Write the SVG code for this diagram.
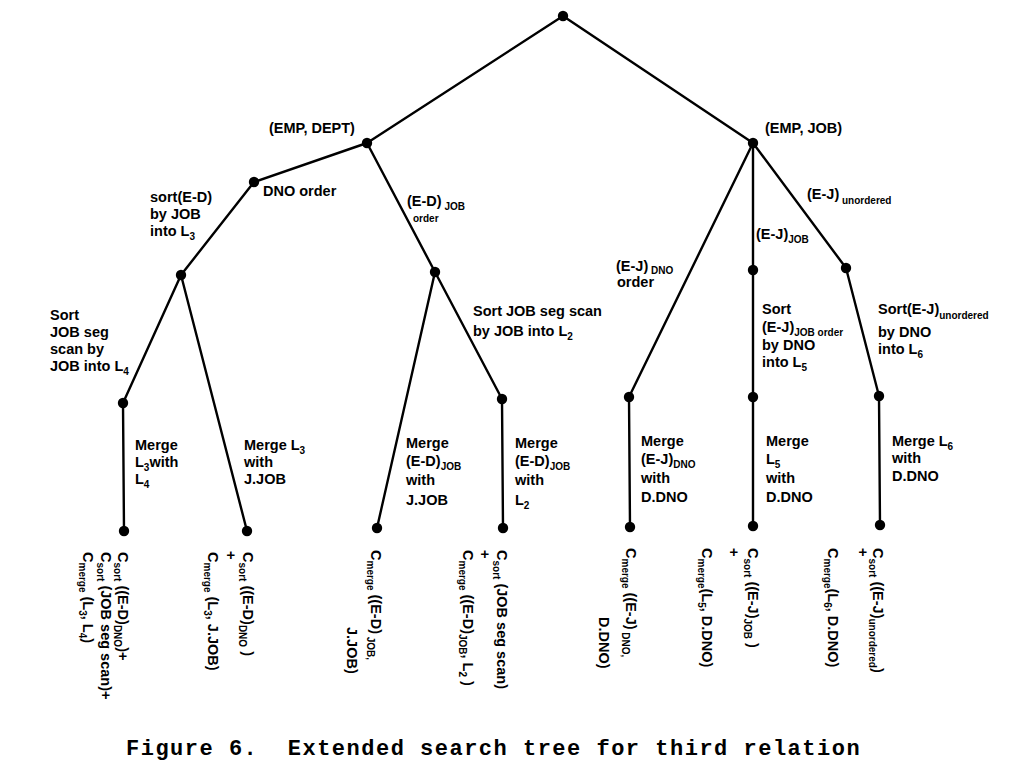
<svg xmlns="http://www.w3.org/2000/svg" width="1017" height="773" viewBox="0 0 1017 773">
<style>
.t{font-family:"Liberation Sans",Arial,sans-serif;font-weight:bold;font-size:14.5px;fill:#000}
.s{font-size:10px}
.cap{font-family:"Liberation Mono","Courier New",monospace;font-weight:bold;font-size:22px;letter-spacing:1.5px;fill:#000}
.e{stroke:#000;stroke-width:2.4;fill:none;stroke-linecap:round;stroke-linejoin:round}
.n{fill:#000}
</style>
<rect width="1017" height="773" fill="#fff"/>
<g id="connectors" class="e">
<line x1="563" y1="16" x2="367" y2="143"/>
<line x1="563" y1="16" x2="753" y2="143"/>
<line x1="367" y1="143" x2="254" y2="182"/>
<line x1="367" y1="143" x2="435" y2="272"/>
<line x1="254" y1="182" x2="181" y2="275"/>
<line x1="181" y1="275" x2="123" y2="403"/>
<line x1="123" y1="403" x2="124" y2="531"/>
<line x1="181" y1="275" x2="247" y2="531"/>
<line x1="435" y1="272" x2="377" y2="528"/>
<line x1="435" y1="272" x2="502" y2="399"/>
<line x1="502" y1="399" x2="503" y2="528"/>
<line x1="753" y1="143" x2="629" y2="397"/>
<line x1="629" y1="397" x2="630" y2="527"/>
<line x1="753" y1="143" x2="753" y2="526"/>
<line x1="753" y1="143" x2="846" y2="268"/>
<line x1="846" y1="268" x2="879" y2="396"/>
<line x1="879" y1="396" x2="880" y2="525"/>
</g>
<g id="root"><circle class="n" cx="563" cy="16" r="5.2"/></g>
<g id="emp-dept"><circle class="n" cx="367" cy="143" r="5.2"/><text class="t" x="269" y="133">(EMP, DEPT)</text></g>
<g id="emp-job"><circle class="n" cx="753" cy="143" r="5.2"/><text class="t" x="765" y="133">(EMP, JOB)</text></g>
<g id="dno-order"><circle class="n" cx="254" cy="182" r="5.2"/><text class="t" x="263" y="196">DNO order</text></g>
<g id="sort-ed"><circle class="n" cx="181" cy="275" r="5.2"/>
<text class="t" x="150" y="202">sort(E-D)</text><text class="t" x="150" y="219">by JOB</text><text class="t" x="150" y="236">into L<tspan class="s" dy="4">3</tspan></text></g>
<g id="ed-job"><circle class="n" cx="435" cy="272" r="5.2"/>
<text class="t" x="407" y="206">(E-D)<tspan class="s" dy="4"> JOB</tspan></text><text class="t s" x="413" y="222">order</text></g>
<g id="sort-jobseg-l4"><circle class="n" cx="123" cy="403" r="5.2"/>
<text class="t" x="50" y="320">Sort</text><text class="t" x="50" y="337">JOB seg</text><text class="t" x="50" y="354">scan by</text><text class="t" x="50" y="371">JOB into L<tspan class="s" dy="4">4</tspan></text></g>
<g id="sort-jobseg-l2"><circle class="n" cx="502" cy="399" r="5.2"/>
<text class="t" x="473" y="316">Sort JOB seg scan</text><text class="t" x="473" y="336">by JOB into L<tspan class="s" dy="4">2</tspan></text></g>
<g id="ej-dno"><circle class="n" cx="629" cy="397" r="5.2"/>
<text class="t" x="616" y="271">(E-J)<tspan class="s" dy="3"> DNO</tspan></text><text class="t" x="617" y="287">order</text></g>
<g id="ej-job"><circle class="n" cx="753" cy="270" r="5.2"/><text class="t" x="756" y="239">(E-J)<tspan class="s" dy="4">JOB</tspan></text></g>
<g id="sort-ej-l5"><circle class="n" cx="753" cy="397" r="5.2"/>
<text class="t" x="762" y="314">Sort</text><text class="t" x="762" y="332">(E-J)<tspan class="s" dy="4">JOB order</tspan></text><text class="t" x="762" y="350">by  DNO</text><text class="t" x="762" y="367">into L<tspan class="s" dy="4">5</tspan></text></g>
<g id="ej-unordered"><circle class="n" cx="846" cy="268" r="5.2"/><text class="t" x="807" y="199">(E-J)<tspan class="s" dy="5"> unordered</tspan></text></g>
<g id="sort-ej-l6"><circle class="n" cx="879" cy="396" r="5.2"/>
<text class="t" x="878" y="314">Sort(E-J)<tspan class="s" dy="5">unordered</tspan></text><text class="t" x="878" y="337">by DNO</text><text class="t" x="878" y="354">into L<tspan class="s" dy="4">6</tspan></text></g>
<g id="edge-labels">
<text class="t" x="135" y="450">Merge</text><text class="t" x="135" y="467">L<tspan class="s" dy="4">3</tspan><tspan dy="-4">with</tspan></text><text class="t" x="135" y="484">L<tspan class="s" dy="4">4</tspan></text>
<text class="t" x="244" y="450">Merge L<tspan class="s" dy="4">3</tspan></text><text class="t" x="244" y="467">with</text><text class="t" x="244" y="484">J.JOB</text>
<text class="t" x="406" y="448">Merge</text><text class="t" x="406" y="466">(E-D)<tspan class="s" dy="4">JOB</tspan></text><text class="t" x="406" y="485">with</text><text class="t" x="406" y="505">J.JOB</text>
<text class="t" x="515" y="448">Merge</text><text class="t" x="515" y="466">(E-D)<tspan class="s" dy="4">JOB</tspan></text><text class="t" x="515" y="485">with</text><text class="t" x="515" y="505">L<tspan class="s" dy="4">2</tspan></text>
<text class="t" x="641" y="446">Merge</text><text class="t" x="641" y="464">(E-J)<tspan class="s" dy="4">DNO</tspan></text><text class="t" x="641" y="483">with</text><text class="t" x="641" y="502">D.DNO</text>
<text class="t" x="766" y="446">Merge</text><text class="t" x="766" y="464">L<tspan class="s" dy="4">5</tspan></text><text class="t" x="766" y="483">with</text><text class="t" x="766" y="502">D.DNO</text>
<text class="t" x="892" y="446">Merge L<tspan class="s" dy="4">6</tspan></text><text class="t" x="892" y="463">with</text><text class="t" x="892" y="481">D.DNO</text>
</g>
<g id="leaf1"><circle class="n" cx="124" cy="531" r="5.2"/>
<text class="t" transform="translate(118,552) rotate(90)">C<tspan class="s" dy="4">sort</tspan><tspan dy="-4"> ((E-D)</tspan><tspan class="s" dy="4">DNO</tspan><tspan dy="-4">)+</tspan></text>
<text class="t" transform="translate(101,552) rotate(90)">C<tspan class="s" dy="4">sort</tspan><tspan dy="-4"> (JOB seg scan)+</tspan></text>
<text class="t" transform="translate(83,552) rotate(90)">C<tspan class="s" dy="4">merge</tspan><tspan dy="-4"> (L</tspan><tspan class="s" dy="4">3</tspan><tspan dy="-4">, L</tspan><tspan class="s" dy="4">4</tspan><tspan dy="-4">)</tspan></text>
</g>
<g id="leaf2"><circle class="n" cx="247" cy="531" r="5.2"/>
<text class="t" transform="translate(243,552) rotate(90)">C<tspan class="s" dy="4">sort</tspan><tspan dy="-4"> ((E-D)</tspan><tspan class="s" dy="4">DNO</tspan><tspan dy="-4"> )</tspan></text>
<text class="t" transform="translate(226,551) rotate(90)">+</text>
<text class="t" transform="translate(208,552) rotate(90)">C<tspan class="s" dy="4">merge</tspan><tspan dy="-4"> (L</tspan><tspan class="s" dy="4">3</tspan><tspan dy="-4">, J.JOB)</tspan></text>
</g>
<g id="leaf3"><circle class="n" cx="377" cy="528" r="5.2"/>
<text class="t" transform="translate(371,550) rotate(90)">C<tspan class="s" dy="4">merge</tspan><tspan dy="-4"> ((E-D)</tspan><tspan class="s" dy="4"> JOB,</tspan></text>
<text class="t" transform="translate(347,627) rotate(90)">J.JOB)</text>
</g>
<g id="leaf4"><circle class="n" cx="503" cy="528" r="5.2"/>
<text class="t" transform="translate(497,550) rotate(90)">C<tspan class="s" dy="4">sort</tspan><tspan dy="-4"> (JOB seg scan)</tspan></text>
<text class="t" transform="translate(480,550) rotate(90)">+</text>
<text class="t" transform="translate(463,550) rotate(90)">C<tspan class="s" dy="4">merge</tspan><tspan dy="-4"> ((E-D)</tspan><tspan class="s" dy="4">JOB</tspan><tspan dy="-4">, L</tspan><tspan class="s" dy="4">2</tspan><tspan dy="-4"> )</tspan></text>
</g>
<g id="leaf5"><circle class="n" cx="630" cy="527" r="5.2"/>
<text class="t" transform="translate(626,548) rotate(90)">C<tspan class="s" dy="4">merge</tspan><tspan dy="-4"> ((E-J)</tspan><tspan class="s" dy="4"> DNO,</tspan></text>
<text class="t" transform="translate(599,617) rotate(90)">D.DNO)</text>
</g>
<g id="leaf6"><circle class="n" cx="753" cy="526" r="5.2"/>
<text class="t" transform="translate(748,548) rotate(90)">C<tspan class="s" dy="4">sort</tspan><tspan dy="-4"> ((E-J)</tspan><tspan class="s" dy="4">JOB</tspan><tspan dy="-4"> )</tspan></text>
<text class="t" transform="translate(729,548) rotate(90)">+</text>
<text class="t" transform="translate(702,548) rotate(90)">C<tspan class="s" dy="4">merge</tspan><tspan dy="-4">(L</tspan><tspan class="s" dy="4">5</tspan><tspan dy="-4">, D.DNO)</tspan></text>
</g>
<g id="leaf7"><circle class="n" cx="880" cy="525" r="5.2"/>
<text class="t" transform="translate(873,548) rotate(90)">C<tspan class="s" dy="4">sort</tspan><tspan dy="-4"> ((E-J)</tspan><tspan class="s" dy="4">unordered</tspan><tspan dy="-4">)</tspan></text>
<text class="t" transform="translate(858,548) rotate(90)">+</text>
<text class="t" transform="translate(828,548) rotate(90)">C<tspan class="s" dy="4">merge</tspan><tspan dy="-4">(L</tspan><tspan class="s" dy="4">6</tspan><tspan dy="-4">, D.DNO)</tspan></text>
</g>
<text class="cap" x="126" y="755" xml:space="preserve">Figure 6.  Extended search tree for third relation</text>
</svg>
